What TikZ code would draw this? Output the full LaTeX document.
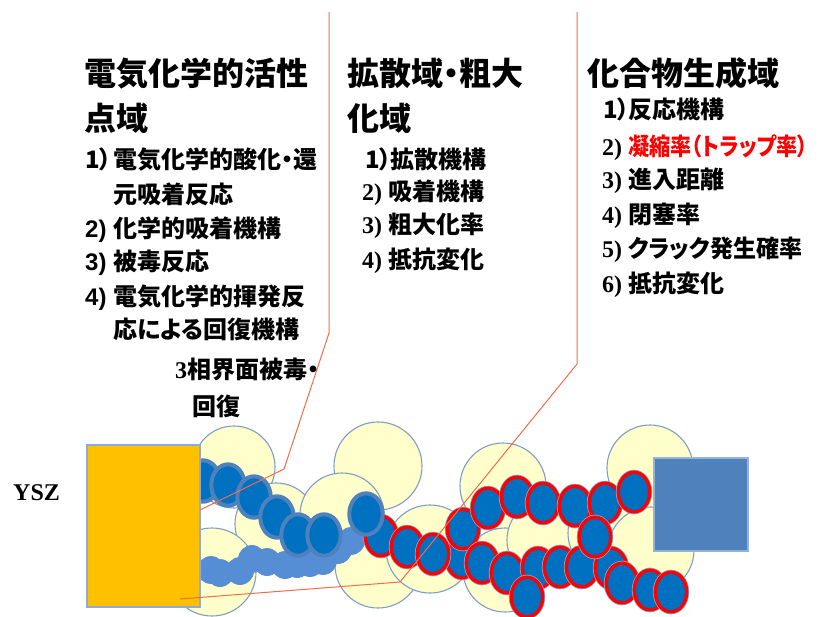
\documentclass[tikz,border=0pt]{standalone}
\usepackage{fontspec}
\usepackage{graphicx}
\newfontfamily\jp[RawFeature={+palt}]{Noto Sans CJK JP}
\newfontfamily\tms{Liberation Serif}
\newfontfamily\arl{Liberation Sans}

\definecolor{grainfill}{HTML}{FFFFCC}
\definecolor{grainline}{HTML}{7F9DC6}
\definecolor{niblue}{HTML}{0070C0}
\definecolor{niedge}{HTML}{4F81BD}
\definecolor{nimid}{HTML}{558ED5}
\definecolor{nimidedge}{HTML}{5A8CCF}
\definecolor{redhalo}{HTML}{8EA4CC}
\definecolor{ysz}{HTML}{FFC000}
\definecolor{yszedge}{HTML}{8FAADC}
\definecolor{metal}{HTML}{4F81BD}
\definecolor{metaledge}{HTML}{95B3D7}
\definecolor{leadcol}{HTML}{F26B4A}

\newcommand\numbox[2]{\makebox[#1pt][l]{#2}}
\newcommand\sansnum[1]{{\arl\bfseries #1}}
\newcommand\serifnum[1]{{\tms\bfseries #1}}

\tikzset{
  grain/.style={draw=grainline, fill=grainfill, line width=1.1pt},
  nidark/.style={draw=niedge, fill=niblue, line width=4pt},
  nired/.style={draw=red, fill=niblue, line width=3.4pt,
                preaction={draw=redhalo, line width=5pt}},
  nimidball/.style={fill=nimid, draw=nimidedge, line width=0.8pt},
  lead/.style={draw=leadcol, line width=1pt},
  ttl/.style={anchor=base west, inner sep=0pt, font=\jp\bfseries\fontsize{32}{38}\selectfont},
  itm/.style={anchor=base west, inner sep=0pt, font=\jp\bfseries\fontsize{24}{28}\selectfont},
}

\begin{document}
\begin{tikzpicture}[x=1pt,y=-1pt]
\useasboundingbox (0,0) rectangle (821,616);

% electrolyte grains
\foreach \cx/\cy/\r in {378/466/44, 234/467/41, 276/524/41, 342/515/42,
                        212/572/44, 378/565/43, 503/486/43, 430/549/44,
                        505/570/42, 549/540/42, 610/533/42, 650/468/43,
                        651/550/43}
  \draw[grain] (\cx,\cy) circle[radius=\r];

% lower chain of small particles
\foreach \cx/\cy in {211/570, 220/573, 240/571, 252/559, 267/562, 285/565,
                     297/564, 310/563, 323/561, 338/550, 351/541}
  \draw[nimidball] (\cx,\cy) circle[radius=13.5];

% particles with red rims
\foreach \cx/\cy in {381/536, 407/547, 462/558, 433/554, 463/529, 482/563,
                     507/573, 538/568, 560/567, 582/567, 611/568, 622/583,
                     650/590, 671/592, 527/597, 488/508, 517/497, 543/503,
                     575/506, 605/503, 634/492, 595/537}
  \draw[nired] (\cx,\cy) ellipse[x radius=15.7, y radius=19.8];

% upper chain of particles
\foreach \cx/\cy in {203/481, 228/485, 254/497, 277/517, 298/535, 324/535,
                     366/514}
  \draw[nidark] (\cx,\cy) ellipse[x radius=16.7, y radius=20.7];

% electrodes
\draw[fill=ysz, draw=yszedge, line width=1.5pt] (87,445) rectangle (200,607);
\draw[fill=metal, draw=metaledge, line width=1.5pt] (654,458) rectangle (748,551);

% region boundaries
\coordinate (l1top) at (329,12);
\coordinate (l1bend) at (329,333);
\coordinate (l1knee) at (284,469);
\coordinate (l1end) at (200,510);
\draw[lead] (l1top) -- (l1bend) -- (l1knee) -- (l1end);
\coordinate (l2top) at (577,12);
\coordinate (l2bend) at (577,364);
\coordinate (l2knee) at (400,582);
\coordinate (l2end) at (180,599);
\draw[lead] (l2top) -- (l2bend) -- (l2knee) -- (l2end);

% labels
\node[anchor=base west, inner sep=0pt, font=\tms\bfseries\fontsize{24}{28}\selectfont]
  (ysz) at (13,500) {YSZ};

\node[ttl] (actA) at (84,85) {電気化学的活性};
\node[ttl] (actB) at (84,130) {点域};
\node[itm] (act1) at (85,168) {\numbox{28}{1）}電気化学的酸化・還};
\node[itm] (act1b) at (113,203) {元吸着反応};
\node[itm] (act2) at (85,237) {\numbox{28}{\sansnum{2)}}化学的吸着機構};
\node[itm] (act3) at (85,270) {\numbox{28}{\sansnum{3)}}被毒反応};
\node[itm] (act4) at (85,305) {\numbox{28}{\sansnum{4)}}電気化学的揮発反};
\node[itm] (act4b) at (113,338) {応による回復機構};

\node[itm] (tpb) at (175,378) {\serifnum{3}相界面被毒・};
\node[itm] (tpbb) at (192,415) {回復};

\node[ttl] (difA) at (347,85) {拡散域・粗大};
\node[ttl] (difB) at (347,130) {化域};
\node[itm] (dif1) at (365,168) {\numbox{25}{1）}拡散機構};
\node[itm] (dif2) at (362,200) {\numbox{26}{\serifnum{2)}}吸着機構};
\node[itm] (dif3) at (362,233) {\numbox{26}{\serifnum{3)}}粗大化率};
\node[itm] (dif4) at (362,268) {\numbox{26}{\serifnum{4)}}抵抗変化};

\node[ttl] (cmpA) at (587,85) {化合物生成域};
\node[itm] (cmp1) at (603,118) {\numbox{25}{1）}反応機構};
\node[itm] (cmp2) at (602,155) {\numbox{26}{\serifnum{2)}}\textcolor{red}{\scalebox{0.88}[1]{凝縮率（トラップ率）}}};
\node[itm] (cmp3) at (602,188) {\numbox{26}{\serifnum{3)}}進入距離};
\node[itm] (cmp4) at (602,223) {\numbox{26}{\serifnum{4)}}閉塞率};
\node[itm] (cmp5) at (602,257) {\numbox{26}{\serifnum{5)}}\scalebox{0.96}[1]{クラック発生確率}};
\node[itm] (cmp6) at (602,292) {\numbox{26}{\serifnum{6)}}抵抗変化};
\end{tikzpicture}
\end{document}
